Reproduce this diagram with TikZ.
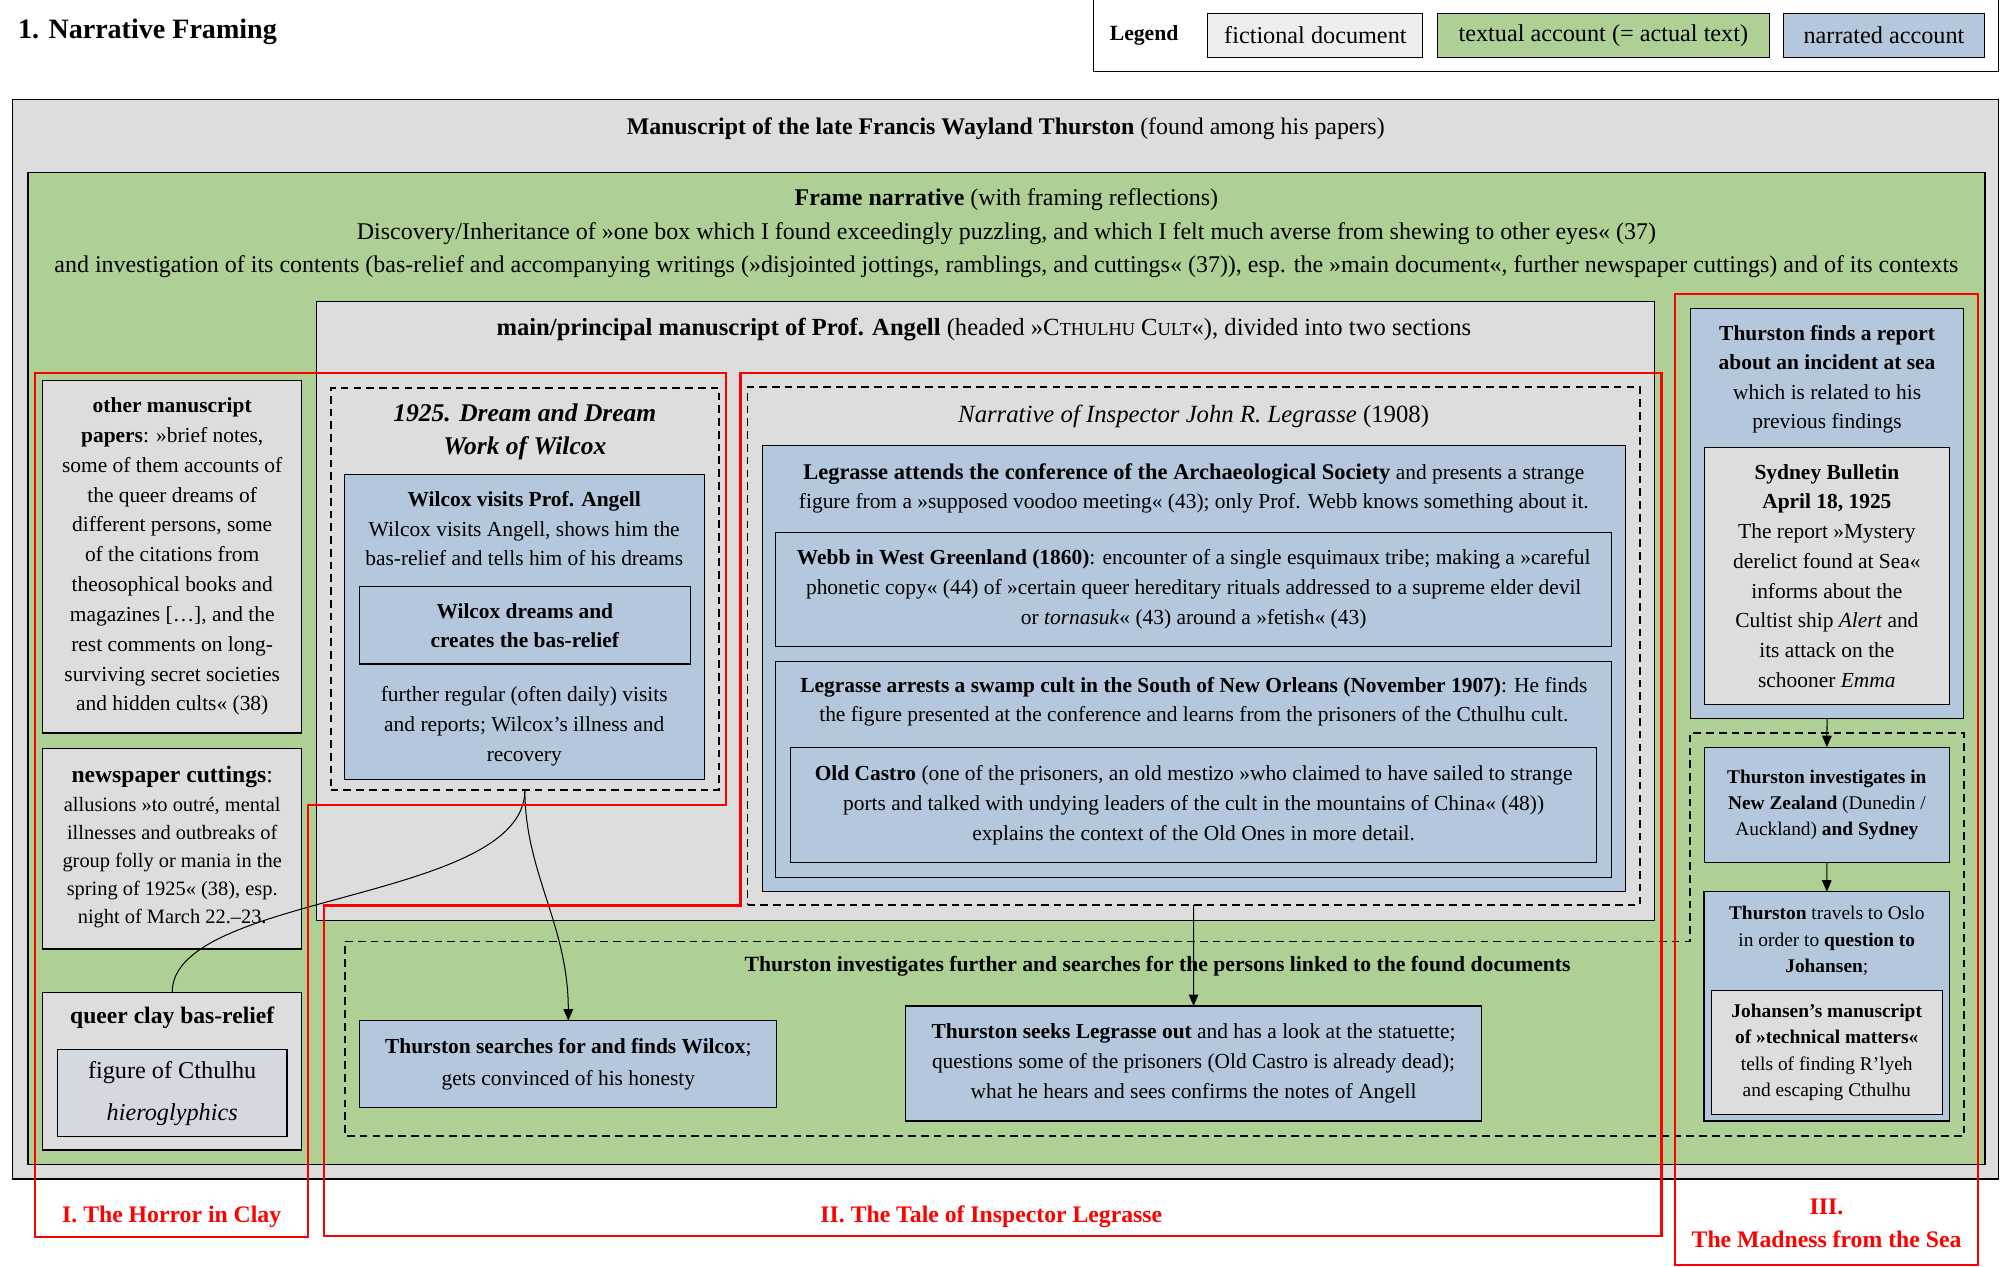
\documentclass[tikz,border=0pt]{standalone}
\usepackage{fontspec}
\setmainfont{Liberation Serif}
\usetikzlibrary{arrows.meta}
\definecolor{docgray}{HTML}{DDDDDD}
\definecolor{leggray}{HTML}{EEEEEE}
\definecolor{txtgreen}{HTML}{AFD095}
\definecolor{narblue}{HTML}{B4C7DD}
\definecolor{figblue}{HTML}{D4D8E0}
\definecolor{secred}{HTML}{FF0000}
\newcommand\myfs[2]{\fontsize{#1}{#2}\selectfont}
\newcommand\rbox[7][]{\node[#1, minimum width={#5-#3}, minimum height={#6-#4}] (#2) at ({(#3+#5)/2},{(#4+#6)/2}) {#7};}
\tikzset{
 rb/.style={draw=black, line width=0.9pt, inner sep=0pt, outer sep=0pt},
 doc/.style={rb, fill=docgray},
 txt/.style={rb, fill=txtgreen},
 nar/.style={rb, fill=narblue},
 fig/.style={rb, fill=figblue},
 dbox/.style={draw=black, line width=1.3pt, dash pattern=on 6pt off 4pt, inner sep=0pt, outer sep=0pt},
 redsec/.style={draw=secred, line width=1.8pt},
 lbl/.style={inner sep=0pt, align=center, font=\myfs{16.8}{23.4}},
 head/.style={lbl, font=\myfs{18.7}{26.2}},
 small/.style={lbl, font=\myfs{15.2}{20.7}},
 redlbl/.style={inner sep=0pt, align=center, text=secred, font=\myfs{18.6}{26}\bfseries},
 conn/.style={draw=black, line width=0.8pt},
 arr/.style={conn, -{Triangle[length=9pt,width=7.5pt]}},
}
\begin{document}
\begin{tikzpicture}[x=1pt,y=-1pt]
\useasboundingbox (0,0) rectangle (1568,993);
\fill[white] (0,0) rectangle (1568,993);
% title and legend
\node[anchor=west, inner sep=0pt, font=\myfs{22}{26}\bfseries] (title) at (14,24.8) {1. Narrative Framing};
\rbox[rb, fill=white]{legend}{857}{-5}{1566.5}{55.9}{}
\node[inner sep=0pt, font=\myfs{17}{20}\bfseries] (legendlbl) at (897,28) {Legend};
\rbox[rb, fill=leggray, font=\myfs{19}{22}]{legdoc}{947}{10.5}{1115.5}{45}{fictional document}
\rbox[txt, font=\myfs{19}{22}]{legtxt}{1127}{10.5}{1387}{45}{textual account (= actual text)}
\rbox[nar, font=\myfs{19}{22}]{legnar}{1398}{10.5}{1556}{45}{narrated account}
% outer manuscript
\rbox[doc]{ms}{10}{77.9}{1566.5}{924.3}{}
\node[head] (mstitle) at (788.5,100.6) {\textbf{Manuscript of the late Francis Wayland Thurston} (found among his papers)};
\rbox[txt]{frame}{22}{135.1}{1556.2}{912.8}{}
\node[head, font=\myfs{18.8}{26.1}] (frametext) at (789,182.9) {\textbf{Frame narrative} (with framing reflections)\\ Discovery/Inheritance of »one box which I found exceedingly puzzling, and which I felt much averse from shewing to other eyes« (37)\\ and investigation of its contents (bas-relief and accompanying writings (»disjointed jottings, ramblings, and cuttings« (37)), esp. the »main document«, further newspaper cuttings) and of its contexts};
% left column
\rbox[doc, lbl]{other}{33.5}{298}{236.5}{574.7}{\textbf{other manuscript}\\ \textbf{papers}: »brief notes,\\ some of them accounts of\\ the queer dreams of\\ different persons, some\\ of the citations from\\ theosophical books and\\ magazines […], and the\\ rest comments on long-\\ surviving secret societies\\ and hidden cults« (38)}
\rbox[doc]{news}{33.5}{587}{236.5}{744}{}
\node[inner sep=0pt, font=\myfs{18.5}{22}] (newshead) at (135,609) {\textbf{newspaper cuttings}:};
\node[lbl, font=\myfs{16}{22}] (newstext) at (135,676.3) {allusions »to outré, mental\\ illnesses and outbreaks of\\ group folly or mania in the\\ spring of 1925« (38), esp.\\ night of March 22.–23.};
\rbox[doc]{relief}{33.5}{778}{236.5}{901.6}{}
\node[inner sep=0pt, font=\myfs{18.5}{22}\bfseries] (relieftitle) at (135,798) {queer clay bas-relief};
\rbox[fig]{figure}{45}{822.5}{225}{891}{}
\node[inner sep=0pt, font=\myfs{19}{22}] (figtext) at (135,840.6) {figure of Cthulhu};
\node[inner sep=0pt, font=\myfs{19}{22}\itshape] (hiero) at (135,874) {hieroglyphics};
% main manuscript of Angell
\rbox[doc]{angell}{247.8}{236.5}{1297}{721.5}{}
\node[head, font=\myfs{19.3}{24}] (angelltitle) at (771.4,258.7) {\textbf{main/principal manuscript of Prof. Angell} (headed »C{\myfs{14.4}{16}THULHU} C{\myfs{14.4}{16}ULT}«), divided into two sections};
% dream section
\rbox[dbox]{dream}{259.3}{304.3}{563.7}{619.4}{}
\node[lbl, font=\myfs{20}{26}\bfseries\itshape] (dreamtitle) at (411.5,338.4) {1925. Dream and Dream\\ Work of Wilcox};
\rbox[nar]{wvisit}{269.9}{371.9}{552.2}{610.8}{}
\node[lbl] (wvisittext) at (411,414.4) {\textbf{Wilcox visits Prof. Angell}\\ Wilcox visits Angell, shows him the\\ bas-relief and tells him of his dreams};
\rbox[nar, lbl, font=\myfs{16.8}{22.4}\bfseries]{wdream}{281.7}{460}{541.2}{520.6}{Wilcox dreams and\\ creates the bas-relief}
\node[lbl] (wfurther) at (411,569.5) {further regular (often daily) visits\\ and reports; Wilcox’s illness and\\ recovery};
% Legrasse section
\rbox[dbox]{legr}{586.1}{303.2}{1285.5}{709.5}{}
\node[inner sep=0pt, font=\myfs{19.4}{24}] (legrtitle) at (935.8,326.7) {\textit{Narrative of Inspector John R. Legrasse} (1908)};
\rbox[nar]{attends}{597.6}{349.4}{1274.5}{698.8}{}
\node[lbl] (attendstext) at (936,382.9) {{\myfs{17.6}{23.4}\textbf{Legrasse attends the conference of the Archaeological Society}} and presents a strange\\ figure from a »supposed voodoo meeting« (43); only Prof. Webb knows something about it.};
\rbox[nar, lbl]{webb}{608.2}{417.4}{1263.5}{506.7}{\textbf{Webb in West Greenland (1860)}: encounter of a single esquimaux tribe; making a »careful\\ phonetic copy« (44) of »certain queer hereditary rituals addressed to a supreme elder devil\\ or \textit{tornasuk}« (43) around a »fetish« (43)}
\rbox[nar]{arrests}{608.2}{518.8}{1263.5}{687.8}{}
\node[lbl] (arreststext) at (936,550.2) {\textbf{Legrasse arrests a swamp cult in the South of New Orleans (November 1907)}: He finds\\ the figure presented at the conference and learns from the prisoners of the Cthulhu cult.};
\rbox[nar, lbl]{castro}{619.7}{585.9}{1251.9}{676.3}{\textbf{Old Castro} (one of the prisoners, an old mestizo »who claimed to have sailed to strange\\ ports and talked with undying leaders of the cult in the mountains of China« (48))\\ explains the context of the Old Ones in more detail.}
% right column
\rbox[nar]{report}{1325.2}{242}{1539.6}{563.2}{}
\node[lbl, font=\myfs{16.8}{23.1}] (reporttext) at (1432.4,297.2) {\textbf{Thurston finds a report}\\ \textbf{about an incident at sea}\\ which is related to his\\ previous findings};
\rbox[doc, lbl, font=\myfs{16.8}{23.3}]{sydney}{1336.2}{350.7}{1528.3}{552.2}{\textbf{Sydney Bulletin}\\ \textbf{April 18, 1925}\\ The report »Mystery\\ derelict found at Sea«\\ informs about the\\ Cultist ship \textit{Alert} and\\ its attack on the\\ schooner \textit{Emma}}
% further investigation
\draw[dbox] (270.7,738) -- (1324.8,738) -- (1324.8,574.9) -- (1540,574.9) -- (1540,890.6) -- (270.7,890.6) -- cycle;
\node[inner sep=0pt, font=\myfs{17}{22}\bfseries] (invtitle) at (907.6,757.9) {Thurston investigates further and searches for the persons linked to the found documents};
\rbox[nar, lbl, font=\myfs{16.8}{24.8}]{wsearch}{282.1}{800.2}{609}{868.2}{\textbf{Thurston searches for and finds Wilcox};\\ gets convinced of his honesty}
\rbox[nar, lbl]{seeks}{709.8}{788.7}{1161.7}{878.9}{\textbf{Thurston seeks Legrasse out} and has a look at the statuette;\\ questions some of the prisoners (Old Castro is already dead);\\ what he hears and sees confirms the notes of Angell}
\rbox[nar, small]{nz}{1336.2}{585.8}{1528.3}{676.1}{\textbf{Thurston investigates in}\\ \textbf{New Zealand} (Dunedin /\\ Auckland) \textbf{and Sydney}}
\rbox[nar]{oslo}{1335.9}{699.1}{1528.5}{878.9}{}
\node[small] (oslotext) at (1432.2,737.6) {\textbf{Thurston} travels to Oslo\\ in order to \textbf{question to}\\ \textbf{Johansen};};
\rbox[doc, small]{johansen}{1341.7}{776.7}{1522.6}{873.6}{\textbf{Johansen’s manuscript}\\ \textbf{of »technical matters«}\\ tells of finding R’lyeh\\ and escaping Cthulhu}
% connectors
\draw[arr] (report.south) -- (nz.north);
\draw[arr] (nz.south) -- (oslo.north);
\draw[arr] (legr.south) -- (seeks.north);
\draw[conn] (relief.north) .. controls +(0,-78) and +(0,88) .. (dream.south);
\draw[arr] (dream.south) .. controls +(0,65) and +(0,-75) .. (wsearch.north);
% sections
\draw[redsec] (27.4,292.6) -- (569,292.6) -- (569,631) -- (241.7,631) -- (241.7,969.6) -- (27.4,969.6) -- cycle;
\draw[redsec] (580.6,292.7) -- (1302.6,292.7) -- (1302.6,969) -- (253.9,969) -- (253.9,710) -- (580.6,710) -- cycle;
\draw[redsec] (1313.3,230.5) rectangle (1550.5,991.5);
\node[redlbl] (lab1) at (134.6,954) {I. The Horror in Clay};
\node[redlbl] (lab2) at (777.2,954) {II. The Tale of Inspector Legrasse};
\node[redlbl] (lab3) at (1432,959) {III.\\ The Madness from the Sea};
\end{tikzpicture}
\end{document}
